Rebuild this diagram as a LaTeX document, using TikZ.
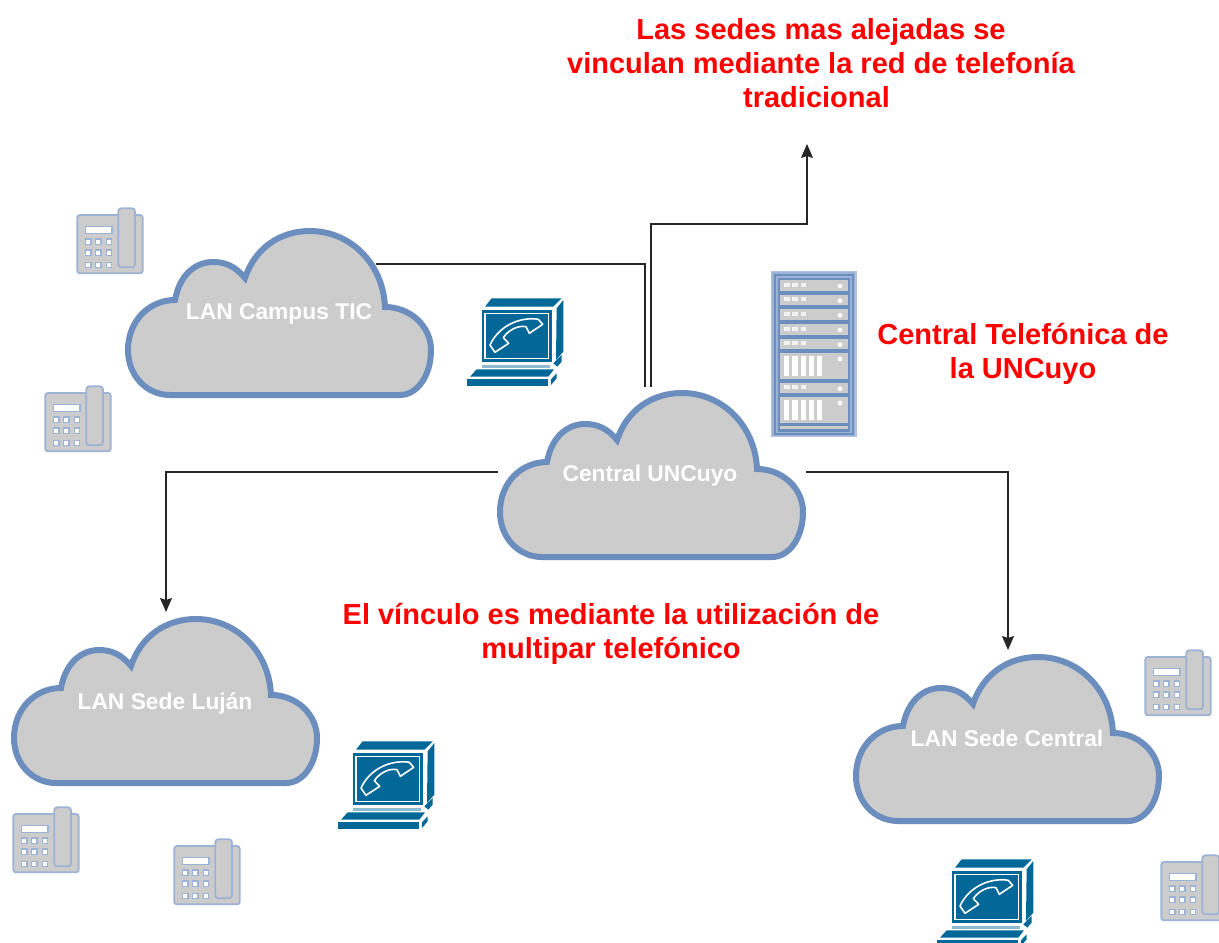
\documentclass[tikz,border=0pt]{standalone}
\usepackage{fontspec}
\setmainfont{Liberation Sans}
\usetikzlibrary{arrows.meta}
\definecolor{cloudfill}{HTML}{CCCCCC}
\definecolor{cloudline}{HTML}{6C8EBF}
\definecolor{termblue}{HTML}{036897}
\definecolor{lablue}{HTML}{9DB3D6}
\tikzset{
  link/.style={draw=black!85,line width=1.3pt},
  linkarrow/.style={link,-{Stealth[length=14pt,width=12pt,inset=2pt]}},
  cloudlabel/.style={text=white,font=\bfseries\fontsize{22.8}{24}\selectfont,inner sep=0pt},
  redlabel/.style={text=red,font=\bfseries\fontsize{29}{34}\selectfont,align=center,inner sep=0pt},
  cloud/.pic={
    \path[fill=cloudfill,draw=cloudline,line width=6pt,line join=miter]
      (45,167) -- (275,167)
      .. controls (292,167) and (306,148) .. (306,122)
      .. controls (306,98) and (285,79) .. (260,79)
      .. controls (258,35) and (225,3) .. (185,3)
      .. controls (155,3) and (130,20) .. (120,50)
      .. controls (110,38) and (100,34) .. (88,34)
      .. controls (72,34) and (55,45) .. (50,72)
      .. controls (25,72) and (3,92) .. (3,122)
      .. controls (3,148) and (22,167) .. (45,167) -- cycle;
    \coordinate (-right) at (251,36);
    \coordinate (-topa) at (148,-3);
    \coordinate (-topb) at (154,-3);
    \coordinate (-top) at (155,-4);
    \coordinate (-west) at (1,82);
    \coordinate (-east) at (309,82);
  },
  phone/.pic={
    \begin{scope}[x=.3333pt,y=-.3333pt]
      \path[fill=cloudfill,draw=lablue,line width=1.8pt,rounded corners=2.5pt] (52,75) rectangle (248,250);
      \path[fill=white,draw=lablue,line width=1.5pt] (77,109) rectangle (156,130);
      \foreach \kx in {85,115,147}\foreach \ky in {155,188,225}{
        \path[fill=white,draw=lablue,line width=1.5pt] (\kx-8,\ky-8) rectangle (\kx+8,\ky+8);
      }
      \path[fill=cloudfill,draw=lablue,line width=1.8pt,rounded corners=3pt] (175,55) rectangle (225,232);
    \end{scope}
  },
  terminal/.pic={
    \begin{scope}[x=.3333pt,y=-.3333pt]
      \fill[termblue] (105,80) -- (125,55) -- (335,55) -- (310,80) -- cycle;
      \fill[termblue] (320,85) -- (340,60) -- (340,215) -- (318,240) -- cycle;
      \fill[termblue] (95,90) rectangle (305,245);
      \draw[white,line width=1.5pt] (105,100) rectangle (296,236);
      \path[draw=white,line width=1.6pt,line join=round]
        (120,195) -- (135,217) -- (176,190) -- (160,173)
        .. controls (175,150) and (205,135) .. (228,140)
        -- (238,160) -- (278,133) -- (265,118)
        .. controls (220,110) and (150,130) .. (120,195) -- cycle;
      \fill[termblue!45] (97,256) rectangle (300,263);
      \fill[termblue] (80,268) -- (312,268) -- (295,290) -- (60,290) -- cycle;
      \fill[termblue] (52,298) rectangle (295,318);
      \fill[termblue] (303,298) -- (320,280) -- (320,295) -- (303,315) -- cycle;
      \fill[termblue] (310,250) -- (335,225) -- (335,245) -- (322,260) -- cycle;
    \end{scope}
  },
  rack/.pic={
    \begin{scope}[x=.3333pt,y=-.3333pt]
      \path[fill=lablue,draw=lablue!80,line width=1.2pt] (35,35) rectangle (288,530);
      \draw[cloudline,line width=1.8pt] (45,45) rectangle (278,522);
      \path[fill=cloudline,draw=cloudline,line width=1.5pt] (55,55) rectangle (268,515);
      \foreach \uy/\uh in {60/32,104/32,148/32,192/32,236/32,368/32}{
        \fill[cloudfill] (60,\uy) rectangle (263,\uy+\uh);
        \foreach \lx in {72,97,122}{\fill[white!75!cloudfill] (\lx,\uy+8) rectangle (\lx+17,\uy+20);}
        \fill[white] (240,\uy+18) circle (7);
      }
      \foreach \uy/\uh in {280/76,412/76}{
        \fill[cloudfill] (60,\uy) rectangle (263,\uy+\uh);
        \foreach \lx in {72,97,122,147,171}{\fill[white] (\lx,\uy+8) rectangle (\lx+16,\uy+68);}
        \fill[white] (240,\uy+17) circle (7);
      }
      \fill[cloudfill] (60,497) rectangle (263,507);
    \end{scope}
  }
}
\begin{document}
\begin{tikzpicture}[x=1pt,y=-1pt]
\clip (0,0) rectangle (1219,943);
\fill[white] (0,0) rectangle (1219,943);
\path (125,228) pic (tic) {cloud};
\path (497,390) pic (cen) {cloud};
\path (11,616) pic (luj) {cloud};
\path (853,654) pic (sed) {cloud};
\node[cloudlabel] (lblTic) at (279,314) {LAN Campus TIC};
\node[cloudlabel] (lblCen) at (650,476) {Central UNCuyo};
\node[cloudlabel] (lblLuj) at (165,703) {LAN Sede Luján};
\node[cloudlabel] (lblSed) at (1007,738) {LAN Sede Central};
\coordinate (free) at (807,144);
\draw[link] (tic-right) -| (cen-topa);
\draw[linkarrow] (cen-topb) |- (807,224) -- (free);
\draw[linkarrow] (cen-west) -| (luj-top);
\draw[linkarrow] (cen-east) -| (sed-top);
\path (60,190) pic {phone};
\path (28,368) pic {phone};
\path (1128,632) pic {phone};
\path (-4,789) pic {phone};
\path (157,821) pic {phone};
\path (1144,837) pic {phone};
\path (450,280) pic {terminal};
\path (321,723) pic {terminal};
\path (920,841) pic {terminal};
\path (760,260) pic {rack};
\node[redlabel] (noteTop) at (821,63) {Las sedes mas alejadas se\\vinculan mediante la red de telefonía\\tradicional\hspace*{9pt}};
\node[redlabel] (noteCen) at (1023,354) {Central Telefónica de\\la UNCuyo};
\node[redlabel] (noteVin) at (611,634) {El vínculo es mediante la utilización de\\multipar telefónico};
\end{tikzpicture}
\end{document}
